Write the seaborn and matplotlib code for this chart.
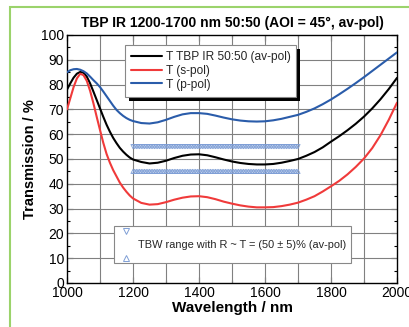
import numpy as np
import pandas as pd
import seaborn as sns
import matplotlib
matplotlib.use("Agg")
import matplotlib.pyplot as plt
from matplotlib.lines import Line2D
from matplotlib.legend_handler import HandlerBase
from matplotlib.patches import Rectangle

# ---------------- data ----------------
wavelength = [1000, 1010, 1020, 1030, 1040, 1050, 1060, 1070, 1080, 1090,
              1100, 1110, 1120, 1130, 1140, 1150, 1160, 1170, 1180, 1190,
              1200, 1225, 1250, 1275, 1300, 1325, 1350, 1375, 1400, 1425,
              1450, 1475, 1500, 1525, 1550, 1575, 1600, 1625, 1650, 1675,
              1700, 1725, 1750, 1775, 1800, 1825, 1850, 1875, 1900, 1925,
              1950, 1975, 2000]
t_av = [78.0, 80.5, 82.8, 84.4, 85.1, 84.8, 83.2, 80.5, 77.2, 73.8,
        70.4, 67.0, 63.8, 61.0, 58.5, 56.4, 54.5, 53.0, 51.7, 50.6,
        49.8, 48.8, 48.2, 48.5, 49.3, 50.4, 51.3, 51.8, 51.9, 51.5,
        50.7, 49.8, 49.0, 48.4, 48.0, 47.8, 47.8, 48.0, 48.5, 49.2,
        50.0, 51.3, 52.8, 54.7, 57.0, 59.2, 61.6, 64.2, 67.1, 70.4,
        74.1, 78.2, 82.7]
t_s = [70.0, 74.5, 79.0, 82.5, 84.4, 83.8, 81.5, 77.5, 72.5, 67.0,
       61.7, 56.5, 52.0, 48.5, 45.5, 43.0, 40.5, 38.5, 36.8, 35.3,
       34.1, 32.3, 31.6, 31.8, 32.6, 33.6, 34.4, 34.9, 35.0, 34.6,
       33.8, 32.8, 32.0, 31.3, 30.8, 30.5, 30.5, 30.6, 31.0, 31.6,
       32.4, 33.6, 35.0, 36.9, 39.0, 41.2, 43.8, 46.8, 50.2, 54.4,
       59.6, 65.8, 72.7]
t_p = [85.0, 85.8, 86.2, 86.3, 86.0, 85.4, 84.5, 83.2, 81.8, 80.5,
       79.0, 77.2, 75.3, 73.4, 71.5, 69.8, 68.5, 67.4, 66.5, 65.8,
       65.3, 64.5, 64.3, 64.8, 65.8, 67.0, 68.0, 68.5, 68.5, 68.2,
       67.5, 66.7, 66.0, 65.5, 65.2, 65.1, 65.2, 65.6, 66.2, 67.0,
       67.8, 69.0, 70.4, 72.1, 74.0, 76.1, 78.3, 80.6, 83.0, 85.5,
       88.0, 90.5, 93.0]

series_labels = ["T TBP IR 50:50 (av-pol)", "T (s-pol)", "T (p-pol)"]
series_colors = ["#000000", "#f03a3a", "#2a5caa"]

tbw_start, tbw_end, tbw_step = 1200, 1700, 5
tbw_upper, tbw_lower = 55, 45
tbw_label = "TBW range with R ~ T = (50 ± 5)% (av-pol)"

title = "TBP IR 1200-1700 nm 50:50 (AOI = 45°, av-pol)"
xlabel = "Wavelength / nm"
ylabel = "Transmission / %"
xticks = [1000, 1200, 1400, 1600, 1800, 2000]
yticks = [0, 10, 20, 30, 40, 50, 60, 70, 80, 90, 100]

# ---------------- build tables ----------------
n = len(wavelength)
df = pd.DataFrame({"wavelength": wavelength * 3,
                   "T": t_av + t_s + t_p,
                   "series": [series_labels[0]] * n
                             + [series_labels[1]] * n
                             + [series_labels[2]] * n})
tbw_x = np.arange(tbw_start, tbw_end + 1, tbw_step)
tbw_df = pd.DataFrame({"wavelength": np.concatenate([tbw_x, tbw_x]),
                       "T": [tbw_upper] * len(tbw_x) + [tbw_lower] * len(tbw_x),
                       "kind": ["upper"] * len(tbw_x) + ["lower"] * len(tbw_x)})

# ---------------- style ----------------
sns.set_theme(style="white")
plt.rcParams["font.family"] = ["Liberation Sans", "DejaVu Sans"]

fig = plt.figure(figsize=(4.09, 3.27), dpi=100)
ax = fig.add_axes([67 / 409, 1 - 283 / 327, 330 / 409, 248 / 327])

marker_color = "#7f9fd6"

# TBW marker rows
sns.scatterplot(data=tbw_df[tbw_df.kind == "upper"], x="wavelength", y="T",
                marker="v", s=9, facecolor="none", edgecolor=marker_color,
                linewidth=0.6, ax=ax, legend=False, zorder=3)
sns.scatterplot(data=tbw_df[tbw_df.kind == "lower"], x="wavelength", y="T",
                marker="^", s=9, facecolor="none", edgecolor=marker_color,
                linewidth=0.6, ax=ax, legend=False, zorder=3)

sns.lineplot(data=df, x="wavelength", y="T", hue="series",
             hue_order=series_labels, palette=series_colors,
             linewidth=1.5, ax=ax, legend=False, zorder=4)

ax.set_xlim(1000, 2000)
ax.set_ylim(0, 100)
ax.set_xticks(xticks)
ax.set_yticks(yticks)
ax.set_xticks(np.arange(1000, 2001, 100), minor=True)
ax.set_yticks(np.arange(0, 101, 5), minor=True)
ax.grid(False)
for xv in np.arange(1100, 2000, 100):
    ax.axvline(xv, color="#808080", lw=0.8, zorder=1)
for yv in np.arange(10, 100, 10):
    ax.axhline(yv, color="#808080", lw=0.8, zorder=1)

ax.tick_params(which="both", direction="in", top=True, right=True,
               bottom=True, left=True, color="black")
ax.tick_params(which="major", length=4, width=0.8, labelsize=10, pad=2,
               labelcolor="black")
ax.tick_params(which="minor", length=2.5, width=0.8)
for sp in ax.spines.values():
    sp.set_color("black")
    sp.set_linewidth(1.0)

ax.set_xlabel(xlabel, fontsize=11, fontweight="bold", labelpad=1,
              color="black")
ax.set_ylabel(ylabel, fontsize=10.5, fontweight="bold", labelpad=3,
              color="black")
ax.set_title(title, fontsize=10, fontweight="bold", pad=6, color="black")

# legend 1
handles = [Line2D([], [], color=c, lw=1.5) for c in series_colors]
leg1 = ax.legend(handles, series_labels, loc="upper left",
                 bbox_to_anchor=((125 - 67) / 330, (283 - 45) / 248),
                 fontsize=8.6, frameon=True, fancybox=False, shadow=False,
                 edgecolor="#888888", framealpha=1, handlelength=2.6,
                 handletextpad=0.3, labelspacing=0.15, borderpad=0.5,
                 borderaxespad=0)
leg1.get_frame().set_linewidth(0.8)
leg1.set_zorder(10)
ax.add_artist(leg1)


class StackedTriangles(HandlerBase):
    def create_artists(self, legend, orig_handle, xdescent, ydescent,
                       width, height, fontsize, trans):
        cx = -xdescent + width * 0.5
        top = Line2D([cx], [-ydescent + height * 0.97], marker="v",
                     linestyle="none", markersize=4.5, markerfacecolor="none",
                     markeredgecolor=marker_color, markeredgewidth=0.7,
                     transform=trans)
        bot = Line2D([cx], [-ydescent + height * 0.03], marker="^",
                     linestyle="none", markersize=4.5, markerfacecolor="none",
                     markeredgecolor=marker_color, markeredgewidth=0.7,
                     transform=trans)
        return [top, bot]


tbw_handle = Line2D([], [], marker="^", linestyle="none")
leg2 = ax.legend([tbw_handle], [tbw_label], loc="upper left",
                 bbox_to_anchor=((114 - 67) / 330, (283 - 226) / 248),
                 handler_map={Line2D: StackedTriangles()},
                 fontsize=7.9, frameon=True, fancybox=False,
                 edgecolor="#888888", framealpha=1, handlelength=1.4,
                 handleheight=3.6, handletextpad=0.4, borderpad=0.4,
                 borderaxespad=0)
leg2.get_frame().set_linewidth(0.8)
leg2.set_zorder(10)

# green outer frame
fig.patches.append(Rectangle((9.5 / 409, -0.1), 1.2, 1 - 6.5 / 327 + 0.1,
                             transform=fig.transFigure, fill=False,
                             edgecolor="#9bd36b", lw=1.5, zorder=0))

# black drop shadow behind legend 1 (offset 4 px right/down)
fig.canvas.draw()
bb = leg1.get_window_extent()
shadow = Rectangle((bb.x0 + 4, bb.y0 - 4), bb.width, bb.height,
                   transform=None, facecolor="black", edgecolor="none",
                   zorder=9, clip_on=False)
ax.add_patch(shadow)

fig.savefig("out.png", dpi=100, facecolor="white")
